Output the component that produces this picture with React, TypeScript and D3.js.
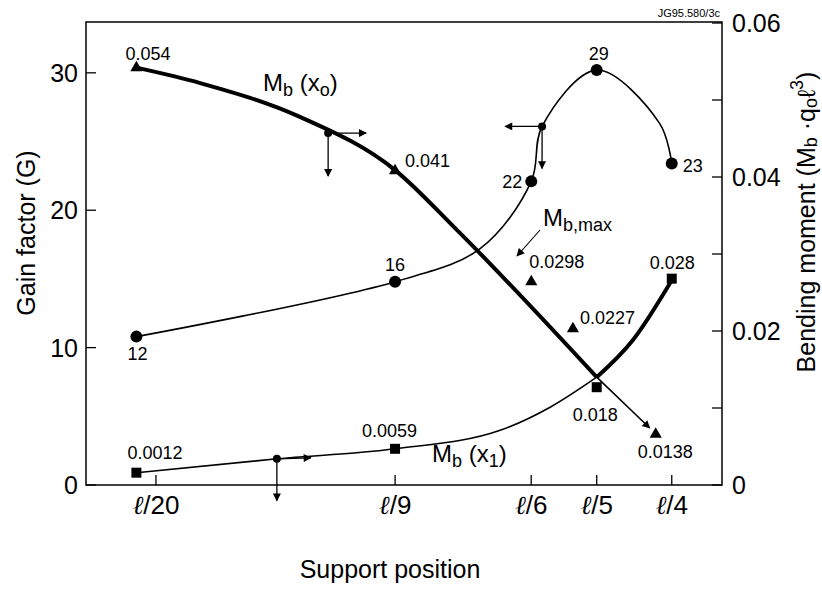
import React from "react";
import * as d3 from "d3";

// ---------- data ----------
const xTickValues = [1 / 20, 1 / 9, 1 / 6, 1 / 5, 1 / 4];
const xTickLabels = ["/20", "/9", "/6", "/5", "/4"];
const leftTicks = [0, 10, 20, 30];
const rightTicks = [0, 0.01, 0.02, 0.03, 0.04, 0.05, 0.06];
const rightTickLabels = ["0", "", "0.02", "", "0.04", "", "0.06"];

// Gain factor G (left axis)
const gainCurveX = [0.045, 0.1111, 0.1458, 0.1667, 0.1722, 0.2, 0.242, 0.25];
const gainCurveY = [10.8, 14.8, 17.2, 22.1, 26.1, 30.2, 26.3, 23.4];
const gainPointX = [0.045, 0.1111, 0.1667, 0.2, 0.25];
const gainPointY = [10.8, 14.8, 22.1, 30.2, 23.4];
const gainLabels = ["12", "16", "22", "29", "23"];

// Mb(x0) (right axis)
const mx0CurveX = [0.045, 0.0613, 0.0868, 0.1111, 0.1364, 0.2];
const mx0CurveY = [0.0542, 0.0522, 0.0478, 0.0409, 0.0331, 0.014];
const mx0TailX = [0.2, 0.2353];
const mx0TailY = [0.014, 0.0074];
const triPointX = [0.045, 0.1111, 0.1667, 0.1879, 0.2393];
const triPointY = [0.0542, 0.0408, 0.0264, 0.0203, 0.0066];
const triLabels = ["0.054", "0.041", "0.0298", "0.0227", "0.0138"];

// Mb(x1) (right axis)
const mx1ThinX = [0.045, 0.0809, 0.1111, 0.154, 0.1763, 0.2];
const mx1ThinY = [0.0016, 0.0034, 0.0047, 0.0071, 0.0101, 0.014];
const mx1ThickX = [0.2, 0.224, 0.25];
const mx1ThickY = [0.014, 0.0188, 0.0266];
const sqPointX = [0.045, 0.1111, 0.2, 0.25];
const sqPointY = [0.0016, 0.0047, 0.0127, 0.0268];
const sqLabels = ["0.0012", "0.0059", "0.018", "0.028"];

// annotation dots
const dotMx0 = [0.094, 0.0457];
const dotGain = [0.1722, 26.1];
const dotMx1 = [0.0809, 0.0034];

// ---------- layout ----------
const W = 822;
const H = 589;
const L = 86, R = 722, T = 22, B = 485;
const xTickPosFrac = [0.11, 0.486, 0.7, 0.803, 0.921];
const FONT = "'Liberation Sans', Arial, Helvetica, sans-serif";

const gainLabelOff = [
  { dx: 1, dy: 23, a: "middle" },
  { dx: 0, dy: -11, a: "middle" },
  { dx: -9, dy: 7, a: "end" },
  { dx: 2, dy: -10, a: "middle" },
  { dx: 11, dy: 8, a: "start" },
];
const triLabelOff = [
  { dx: -11, dy: -8 },
  { dx: 10, dy: -4 },
  { dx: -2, dy: -14 },
  { dx: 7, dy: -5 },
  { dx: -18, dy: 24 },
];
const sqLabelOff = [
  { dx: -9, dy: -14 },
  { dx: -33, dy: -12 },
  { dx: -24, dy: 34 },
  { dx: -22, dy: -10 },
];

export default function App() {
  const x = d3
    .scaleLinear()
    .domain(xTickValues)
    .range(xTickPosFrac.map((f) => L + f * (R - L)));
  const yL = d3.scaleLinear().domain([0, 33.7]).range([B, T]);
  const yR = d3.scaleLinear().domain([0, 0.06]).range([B, 23]);

  const lineL = d3
    .line<[number, number]>()
    .x((d) => x(d[0]))
    .y((d) => yL(d[1]))
    .curve(d3.curveCatmullRom.alpha(0.5));
  const lineR = d3
    .line<[number, number]>()
    .x((d) => x(d[0]))
    .y((d) => yR(d[1]))
    .curve(d3.curveMonotoneX);
  const zip = (a: number[], b: number[]) => a.map((v, i) => [v, b[i]] as [number, number]);

  const tri = d3.symbol(d3.symbolTriangle, 64)()!;
  const sq = d3.symbol(d3.symbolSquare, 100)()!;

  const dotA = [x(dotMx0[0]), yR(dotMx0[1])];
  const dotB = [x(dotGain[0]), yL(dotGain[1])];
  const dotC = [x(dotMx1[0]), yR(dotMx1[1])];

  const arrow = (x1: number, y1: number, x2: number, y2: number, key: string, w = 1.3) => (
    <line key={key} x1={x1} y1={y1} x2={x2} y2={y2} stroke="#000" strokeWidth={w} markerEnd="url(#ah)" />
  );

  return (
    <svg
      width={W}
      height={H}
      style={{ position: "absolute", left: 0, top: 0, background: "#fff" }}
      fontFamily={FONT}
    >
      <defs>
        <marker id="ah" viewBox="0 0 10 10" refX="9" refY="5" markerWidth="9" markerHeight="8" markerUnits="userSpaceOnUse" orient="auto">
          <path d="M0,0 L10,5 L0,10 z" fill="#000" />
        </marker>
      </defs>
      <rect x={0} y={0} width={W} height={H} fill="#fff" />

      {/* frame */}
      <rect x={L} y={T} width={R - L} height={B - T} fill="none" stroke="#000" strokeWidth={1.5} />

      {/* left axis */}
      {leftTicks.map((t) => (
        <g key={"lt" + t}>
          <line x1={L} x2={L + 10} y1={yL(t)} y2={yL(t)} stroke="#000" strokeWidth={1.3} />
          <text x={L - 8} y={yL(t)} textAnchor="end" dominantBaseline="central" fontSize={25}>
            {t}
          </text>
        </g>
      ))}
      <text transform={`translate(26,233) rotate(-90)`} textAnchor="middle" dominantBaseline="central" fontSize={25}>
        Gain factor (G)
      </text>

      {/* right axis */}
      {rightTicks.map((t, i) => (
        <g key={"rt" + i}>
          <line x1={R} x2={R - 10} y1={yR(t)} y2={yR(t)} stroke="#000" strokeWidth={1.3} />
          {rightTickLabels[i] && (
            <text x={R + 10} y={yR(t)} textAnchor="start" dominantBaseline="central" fontSize={25}>
              {rightTickLabels[i]}
            </text>
          )}
        </g>
      ))}
      <text transform={`translate(806,222) rotate(-90)`} textAnchor="middle" dominantBaseline="central" fontSize={25}>
        Bending moment (M<tspan fontSize={18} dy={5}>b</tspan>
        <tspan dy={-5}> ·q</tspan>
        <tspan fontSize={18} dy={5}>o</tspan>
        <tspan dy={-5}>ℓ</tspan>
        <tspan fontSize={18} dy={-9}>3</tspan>
        <tspan dy={9}>)</tspan>
      </text>

      {/* bottom axis */}
      {xTickValues.map((t, i) => (
        <g key={"bt" + i}>
          <line x1={x(t)} x2={x(t)} y1={B} y2={B - 10} stroke="#000" strokeWidth={1.3} />
          <text x={x(t)} y={514} textAnchor="middle" fontSize={26}>
            <tspan fontStyle="italic" fontFamily="'DejaVu Serif', serif">ℓ</tspan>
            {xTickLabels[i]}
          </text>
        </g>
      ))}
      <text x={390} y={578} textAnchor="middle" fontSize={25}>
        Support position
      </text>
      <text x={720} y={17} textAnchor="end" fontSize={11}>
        JG95.580/3c
      </text>

      {/* Gain curve */}
      <path d={lineL(zip(gainCurveX, gainCurveY))!} fill="none" stroke="#000" strokeWidth={1.6} />
      {gainPointX.map((v, i) => (
        <g key={"gp" + i}>
          <circle cx={x(v)} cy={yL(gainPointY[i])} r={6} fill="#000" />
          <text
            x={x(v) + gainLabelOff[i].dx}
            y={yL(gainPointY[i]) + gainLabelOff[i].dy}
            textAnchor={gainLabelOff[i].a as any}
            fontSize={18}
          >
            {gainLabels[i]}
          </text>
        </g>
      ))}

      {/* Mb(x0) */}
      <path d={lineR(zip(mx0CurveX, mx0CurveY))!} fill="none" stroke="#000" strokeWidth={4} />
      {arrow(x(mx0TailX[0]), yR(mx0TailY[0]), x(mx0TailX[1]), yR(mx0TailY[1]), "tail", 1.6)}
      {triPointX.map((v, i) => (
        <g key={"tp" + i}>
          <path d={tri} transform={`translate(${x(v)},${yR(triPointY[i])})`} fill="#000" />
          <text x={x(v) + triLabelOff[i].dx} y={yR(triPointY[i]) + triLabelOff[i].dy} fontSize={18}>
            {triLabels[i]}
          </text>
        </g>
      ))}

      {/* Mb(x1) */}
      <path d={lineR(zip(mx1ThinX, mx1ThinY))!} fill="none" stroke="#000" strokeWidth={1.6} />
      <path d={lineR(zip(mx1ThickX, mx1ThickY))!} fill="none" stroke="#000" strokeWidth={4} />
      {sqPointX.map((v, i) => (
        <g key={"sp" + i}>
          <path d={sq} transform={`translate(${x(v)},${yR(sqPointY[i])})`} fill="#000" />
          <text x={x(v) + sqLabelOff[i].dx} y={yR(sqPointY[i]) + sqLabelOff[i].dy} fontSize={18}>
            {sqLabels[i]}
          </text>
        </g>
      ))}

      {/* annotation arrows */}
      <circle cx={dotA[0]} cy={dotA[1]} r={4} fill="#000" />
      {arrow(dotA[0], dotA[1], dotA[0] + 38, dotA[1], "a1")}
      {arrow(dotA[0], dotA[1], dotA[0], dotA[1] + 43, "a2")}
      <circle cx={dotB[0]} cy={dotB[1]} r={4} fill="#000" />
      {arrow(dotB[0], dotB[1], dotB[0] - 37, dotB[1], "b1", 1.1)}
      {arrow(dotB[0], dotB[1], dotB[0], dotB[1] + 42, "b2")}
      <circle cx={dotC[0]} cy={dotC[1]} r={4} fill="#000" />
      {arrow(dotC[0], dotC[1], dotC[0] + 34, dotC[1] - 1, "c1")}
      {arrow(dotC[0], dotC[1], dotC[0], dotC[1] + 42, "c2")}

      {/* curve labels */}
      <text x={263} y={91} fontSize={24}>
        M<tspan fontSize={18} dy={5}>b</tspan>
        <tspan dy={-5}> (x</tspan>
        <tspan fontSize={18} dy={5}>o</tspan>
        <tspan dy={-5}>)</tspan>
      </text>
      <text x={432} y={462} fontSize={24}>
        M<tspan fontSize={18} dy={5}>b</tspan>
        <tspan dy={-5}> (x</tspan>
        <tspan fontSize={18} dy={5}>1</tspan>
        <tspan dy={-5}>)</tspan>
      </text>
      <text x={543} y={226} fontSize={24}>
        M<tspan fontSize={18} dy={5}>b,max</tspan>
      </text>
      {arrow(540, 230, 517, 256, "mm", 1.1)}
    </svg>
  );
}
